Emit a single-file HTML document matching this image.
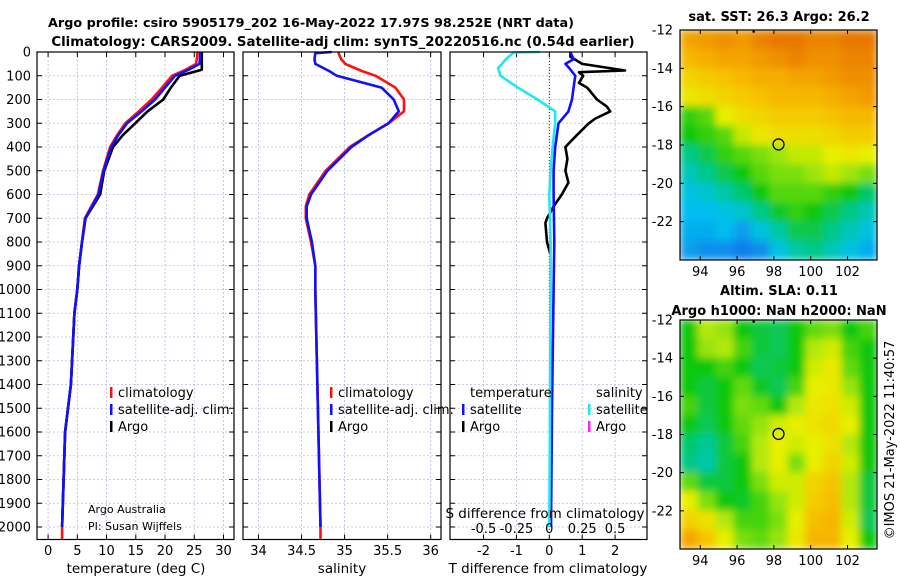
<!DOCTYPE html>
<html><head><meta charset="utf-8"><style>
html,body{margin:0;padding:0;background:#fff;}
svg{display:block;font-family:"DejaVu Sans","Liberation Sans",sans-serif;}
</style></head><body>
<svg id="fig" width="900" height="580" viewBox="0 0 900 580" xmlns="http://www.w3.org/2000/svg">
<defs>
<filter id="smooth" x="0" y="0" width="1" height="1"><feGaussianBlur stdDeviation="4" edgeMode="duplicate"/></filter>
<clipPath id="clipTop"><rect x="680" y="30" width="197" height="230"/></clipPath>
<clipPath id="clipBot"><rect x="680" y="320" width="197" height="229"/></clipPath>
</defs>
<text x="311" y="27" text-anchor="middle" font-size="12.8" font-weight="bold">Argo profile: csiro 5905179_202 16-May-2022 17.97S 98.252E (NRT data)</text>
<text x="343" y="46" text-anchor="middle" font-size="13.3" font-weight="bold">Climatology: CARS2009. Satellite-adj clim: synTS_20220516.nc (0.54d earlier)</text>
<text x="779" y="21" text-anchor="middle" font-size="13" font-weight="bold">sat. SST: 26.3 Argo: 26.2</text>
<text x="779" y="295" text-anchor="middle" font-size="13" font-weight="bold">Altim. SLA: 0.11</text>
<text x="779" y="315" text-anchor="middle" font-size="13" font-weight="bold">Argo h1000: NaN h2000: NaN</text>
<text transform="translate(894,440) rotate(-90)" text-anchor="middle" font-size="13">©IMOS 21-May-2022 11:40:57</text>
<g id="plots"></g>
</svg>
<script>
// ---- profile data ----
const tempDepth = [0,20,50,75,100,150,200,250,300,350,400,500,600,700,800,900,1000,1100,1400,1600,2000];
const tempClim  = [25.5,25.5,25.3,23.5,21.2,19.5,17.7,15.5,13.2,11.8,10.6,9.4,8.5,6.3,5.8,5.3,5.0,4.5,3.9,2.9,2.4];
const tempSat   = [26.0,26.0,25.9,24.0,21.7,20.0,18.3,16.0,13.5,12.0,10.8,9.5,8.6,6.4,5.8,5.3,5.0,4.5,3.9,2.9,2.4];
const argoTDepth= [0,20,50,75,90,100,150,200,250,300,350,400,500,600,700,800,900,1000,1100,1400,1600,2000];
const tempArgo  = [26.3,26.3,26.3,26.3,24.0,22.5,21.0,19.7,17.0,14.9,12.8,11.1,9.6,8.9,6.4,5.8,5.3,5.0,4.5,3.9,2.9,2.4];
const salDepth  = [0,5,30,50,80,100,150,200,250,300,350,400,500,600,650,700,800,900,1000,2000];
const salSat    = [34.85,34.66,34.65,34.66,34.82,34.91,35.43,35.57,35.63,35.51,35.28,35.08,34.80,34.61,34.56,34.56,34.62,34.66,34.66,34.72];
const salClim   = [34.93,34.93,34.96,35.01,35.20,35.36,35.59,35.69,35.69,35.51,35.28,35.06,34.78,34.59,34.55,34.55,34.61,34.66,34.66,34.72];
const diffDepth = [0,2,30,50,67,100,146,200,250,300,400,500,600,800,1000,1500,2000];
const sDiffSat  = [-0.07,-0.27,-0.33,-0.36,-0.39,-0.37,-0.25,-0.09,0.045,0.045,0.025,0.01,0.0,0.01,0.01,0.005,0.0];
const tDiffSat  = [0.64,0.64,0.74,0.49,0.6,0.79,0.74,0.69,0.58,0.28,0.18,0.13,0.13,0.15,0.13,0.08,0.05];
const argoDDepth= [0,20,50,78,85,100,130,150,200,230,250,280,300,350,400,450,500,550,600,650,700,720,800,850];
const tDiffArgo = [0.64,0.64,1.0,2.3,0.9,1.03,0.9,1.15,1.45,1.75,1.85,1.4,1.2,0.84,0.49,0.55,0.49,0.58,0.38,0.13,-0.07,-0.12,-0.07,0.03];
// ---- map data ----
const sstLats = [-12,-13,-14,-15,-16,-17,-18,-19,-20,-21,-22,-23];
const sstLons = [92.9,93.87,94.85,95.82,96.8,97.77,98.75,99.72,100.7,101.67,102.65];
const sstGrid = [
[27.2,27.3,27.4,27.3,27.5,27.6,27.6,27.5,27.5,27.6,27.6],
[27.0,27.1,27.2,27.2,27.3,27.4,27.5,27.4,27.4,27.5,27.5],
[26.7,26.8,26.9,27.0,27.1,27.1,27.2,27.2,27.3,27.4,27.4],
[26.5,26.6,26.7,26.8,26.9,27.0,27.0,27.0,27.1,27.2,27.3],
[25.9,26.0,26.4,26.6,26.7,26.8,26.8,26.8,26.9,27.0,27.0],
[25.8,25.9,26.0,26.3,26.5,26.6,26.6,26.6,26.7,26.8,26.8],
[25.4,25.6,25.9,26.0,26.1,26.2,26.3,26.3,26.4,26.5,26.4],
[25.2,25.4,25.6,25.8,26.0,26.1,26.1,26.2,26.3,26.2,26.1],
[25.0,25.1,25.3,25.5,25.8,26.0,26.0,26.0,25.9,25.8,25.5],
[24.9,24.9,25.0,25.1,25.4,25.7,25.9,25.8,25.6,25.4,25.2],
[24.8,24.8,24.9,24.7,25.0,25.3,25.6,25.6,25.4,25.2,25.0],
[24.7,24.6,24.6,24.5,24.6,25.0,25.3,25.4,25.2,25.0,24.8]];
const slaGrid = [
[0.0,0.06,0.05,0.0,-0.02,-0.03,0.0,0.03,0.04,0.0,0.02],
[0.0,0.05,0.06,0.02,-0.02,-0.03,0.0,0.06,0.07,0.02,0.0],
[0.0,0.0,0.02,0.0,-0.03,-0.02,0.0,0.07,0.09,0.03,0.0],
[0.0,-0.02,0.0,0.03,-0.01,-0.03,0.02,0.08,0.09,0.05,0.0],
[0.02,-0.02,0.0,0.04,0.03,0.0,0.06,0.09,0.1,0.07,0.0],
[0.0,-0.03,0.0,0.03,0.05,0.07,0.08,0.1,0.11,0.08,0.0],
[-0.04,-0.06,-0.02,0.02,0.06,0.08,0.07,0.08,0.1,0.06,0.0],
[-0.05,-0.07,-0.02,0.0,0.06,0.08,0.04,0.08,0.12,0.07,0.0],
[0.03,-0.02,-0.02,0.0,0.04,0.07,0.07,0.12,0.14,0.06,-0.02],
[0.08,0.04,0.0,-0.01,0.02,0.05,0.07,0.13,0.15,0.06,-0.02],
[0.12,0.1,0.06,0.02,0.02,0.04,0.08,0.15,0.16,0.07,-0.03],
[0.18,0.14,0.08,0.04,0.03,0.05,0.09,0.16,0.16,0.08,0.0]];
const depthTicks = [0,100,200,300,400,500,600,700,800,900,1000,1100,1200,1300,1400,1500,1600,1700,1800,1900,2000];
const tempTicks = [0,5,10,15,20,25,30];
const salTicks = [34,34.5,35,35.5,36];
const salTickLabels = ["34","34.5","35","35.5","36"];
const tdTicks = [-2,-1,0,1,2];
const sdTicks = [-0.5,-0.25,0,0.25,0.5];
const latTicks = [-12,-14,-16,-18,-20,-22];
const lonTicks = [94,96,98,100,102];
const argoPos = [98.252,-17.97];

const NS="http://www.w3.org/2000/svg";
const root=document.getElementById('plots');
function mk(tag,attrs,parent){const e=document.createElementNS(NS,tag);for(const k in attrs)e.setAttribute(k,attrs[k]);(parent||root).appendChild(e);return e;}
function txt(s,attrs,parent){const e=mk('text',attrs,parent);e.textContent=s;return e;}

const Y0=52, YB=539.5;
const yD=d=>Y0+d*(527-52)/2000;
const panels=[
 {x0:37,x1:234,v0:-1.9,v1:31.8,name:'temperature-panel'},
 {x0:243,x1:441,v0:33.82,v1:36.12,name:'salinity-panel'},
 {x0:450,x1:647,v0:-3.02,v1:2.97,name:'difference-panel'}];
panels.forEach(p=>{p.sx=v=>p.x0+(v-p.v0)/(p.v1-p.v0)*(p.x1-p.x0);});
const xT=panels[0].sx, xS=panels[1].sx, xTD=panels[2].sx, xSD=v=>xTD(v*4);

function grid(p,ticks,scale){
 const g=mk('g',{});
 
 
 depthTicks.forEach(d=>{mk('line',{x1:p.x0,x2:p.x1,y1:yD(d),y2:yD(d),stroke:'#b8bce0','stroke-width':0.8,'stroke-dasharray':'2,2'},g);
  mk('line',{x1:p.x0,x2:p.x0+5,y1:yD(d),y2:yD(d),stroke:'#000'},g);mk('line',{x1:p.x1,x2:p.x1-5,y1:yD(d),y2:yD(d),stroke:'#000'},g);});
 ticks.forEach(v=>{const x=scale(v);mk('line',{x1:x,x2:x,y1:Y0,y2:YB,stroke:'#b8bce0','stroke-width':0.8,'stroke-dasharray':'2,2'},g);
  mk('line',{x1:x,x2:x,y1:YB,y2:YB-5,stroke:'#000'},g);mk('line',{x1:x,x2:x,y1:Y0,y2:Y0+5,stroke:'#000'},g);});
}
function frame(p){const r=mk('rect',{x:p.x0,y:Y0,width:p.x1-p.x0,height:YB-Y0,fill:'none',stroke:'#000','stroke-width':1.2});
 
 }
function line(depths,vals,scale,color,name,w){
 const pts=depths.map((d,i)=>scale(vals[i]).toFixed(1)+','+yD(d).toFixed(1)).join(' ');
 const e=mk('polyline',{points:pts,fill:'none',stroke:color,'stroke-width':w||2.6,'stroke-linejoin':'round'});
 
 
}
grid(panels[0],tempTicks,xT);grid(panels[1],salTicks,xS);grid(panels[2],tdTicks,xTD);
mk('line',{x1:xTD(0),x2:xTD(0),y1:Y0,y2:YB,stroke:'#333','stroke-width':1,'stroke-dasharray':'1,2'});
line([...tempDepth,2050],[...tempClim,2.4],xT,'#ff1010','temp-climatology-line');
line(argoTDepth,tempArgo,xT,'#000','temp-argo-line');
line(tempDepth,tempSat,xT,'#1010ff','temp-satellite-line');
line([...salDepth,2050],[...salClim,34.72],xS,'#ff1010','sal-climatology-line');
line(salDepth,salSat,xS,'#1010ff','sal-satellite-line');
line(argoDDepth,tDiffArgo,xTD,'#000','tdiff-argo-line');
line(diffDepth,tDiffSat,xTD,'#1010ff','tdiff-satellite-line');
line(diffDepth,sDiffSat,xSD,'#20e8f0','sdiff-satellite-line');
panels.forEach(frame);
depthTicks.forEach(d=>{const t=txt(String(d),{x:31,y:yD(d)+4.5,'text-anchor':'end','font-size':13});
 });
tempTicks.forEach(v=>{const t=txt(String(v),{x:xT(v),y:555,'text-anchor':'middle','font-size':13});
 });
salTicks.forEach((v,i)=>{const t=txt(salTickLabels[i],{x:xS(v),y:555,'text-anchor':'middle','font-size':13});
 });
tdTicks.forEach(v=>{const t=txt(String(v),{x:xTD(v),y:555,'text-anchor':'middle','font-size':13});
 });
sdTicks.forEach(v=>{const t=txt(String(v),{x:xSD(v),y:533,'text-anchor':'middle','font-size':13});
 });
[['temperature (deg C)',136,'temp-axis-title'],['salinity',342,'sal-axis-title'],['T difference from climatology',548,'tdiff-axis-title']].forEach(a=>{
 const t=txt(a[0],{x:a[1],y:573,'text-anchor':'middle','font-size':13.5});});
{const t=txt('S difference from climatology',{x:545,y:518,'text-anchor':'middle','font-size':13.5});}
{const t=txt('Argo Australia',{x:88,y:513,'font-size':11});}
{const t=txt('PI: Susan Wijffels',{x:88,y:530,'font-size':11});}
function legend(x,y,color,label,name){const g=mk('g',{});
 if(color)mk('rect',{x:x,y:y-10,width:2.5,height:11,fill:color},g);
 txt(label,{x:x+8,y:y,'font-size':13},g);}
legend(110,397,'#ff1010','climatology','legend-climatology');
legend(110,414,'#1010ff','satellite-adj. clim.','legend-satellite-adj');
legend(110,431,'#000','Argo','legend-argo');
legend(330,397,'#ff1010','climatology','legend-sal-climatology');
legend(330,414,'#1010ff','satellite-adj. clim.','legend-sal-satellite-adj');
legend(330,431,'#000','Argo','legend-sal-argo');
legend(462,397,null,'temperature','legend-temperature-header');
legend(462,414,'#1010ff','satellite','legend-tdiff-satellite');
legend(462,431,'#000','Argo','legend-tdiff-argo');
legend(588,397,null,'salinity','legend-salinity-header');
legend(588,414,'#20e8f0','satellite','legend-sdiff-satellite');
legend(588,431,'#ff20ff','Argo','legend-sdiff-argo');

const cmapStops=[[0,[0,48,208]],[0.15,[16,112,232]],[0.28,[0,192,240]],[0.38,[0,200,160]],[0.5,[16,200,16]],[0.58,[128,224,16]],[0.65,[232,240,0]],[0.78,[248,192,0]],[0.9,[240,144,0]],[1,[224,96,0]]];
function cmap(t){t=Math.max(0,Math.min(1,t));for(let i=1;i<cmapStops.length;i++){if(t<=cmapStops[i][0]){const a=cmapStops[i-1],b=cmapStops[i],f=(t-a[0])/(b[0]-a[0]);
 return 'rgb('+a[1].map((c,k)=>Math.round(c+(b[1][k]-c)*f)).join(',')+')';}}return 'rgb(224,96,0)';}
function map(cfg){
 const lx=v=>680+(v-92.9)/(103.6-92.9)*197;
 const ly=v=>cfg.top+(-12-v)/12*cfg.h;
 const g=mk('g',{'clip-path':cfg.clip});
 
 
 const inner=mk('g',{filter:'url(#smooth)'},g);
 cfg.grid.forEach((row,r)=>row.forEach((v,c)=>{
  const x=lx(sstLons[c]),y=ly(sstLats[r]);
  const cell=mk('rect',{x:x-0.3,y:y-0.3,width:lx(sstLons[c]+0.975)-x+0.6,height:ly(sstLats[r]-1)-y+0.6,fill:cmap(cfg.norm(v))},inner);
  
  
 }));
 const fr=mk('rect',{x:680,y:cfg.top,width:197,height:cfg.h,fill:'none',stroke:'#000','stroke-width':1.2});
 
 latTicks.forEach(v=>{const y=ly(v);mk('line',{x1:680,x2:684,y1:y,y2:y,stroke:'#000'});mk('line',{x1:877,x2:873,y1:y,y2:y,stroke:'#000'});
  const t=txt(String(v),{x:673,y:y+4.5,'text-anchor':'end','font-size':13});});
 lonTicks.forEach(v=>{const x=lx(v);mk('line',{x1:x,x2:x,y1:cfg.top+cfg.h,y2:cfg.top+cfg.h-4,stroke:'#000'});mk('line',{x1:x,x2:x,y1:cfg.top,y2:cfg.top+4,stroke:'#000'});
  const t=txt(String(v),{x:x,y:cfg.top+cfg.h+16,'text-anchor':'middle','font-size':13});});
 const m=mk('circle',{cx:lx(argoPos[0]),cy:ly(argoPos[1]),r:5.5,fill:'none',stroke:'#000','stroke-width':1.3});
 
 mk('circle',{cx:lx(96.9),cy:cfg.top+1.5,r:1.3,fill:'#000'});
}
map({top:30,h:230,grid:sstGrid,norm:v=>(v-23.8)/4.0,clip:'url(#clipTop)',name:'sst-map'});
map({top:320,h:229,grid:slaGrid,norm:v=>0.5+v*1.9,clip:'url(#clipBot)',name:'sla-map'});
</script>
</body></html>
